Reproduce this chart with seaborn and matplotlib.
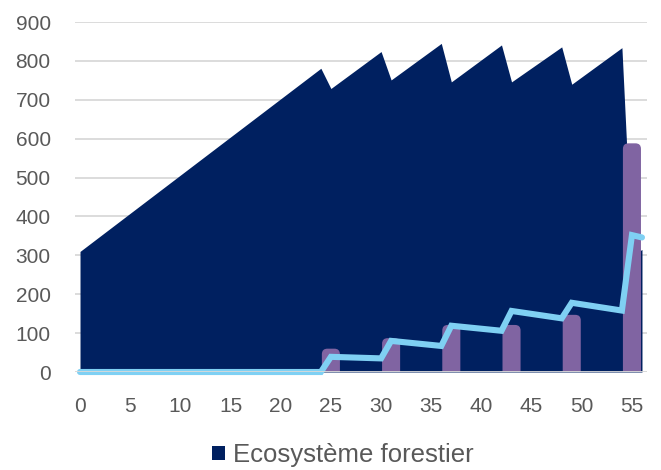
import numpy as np
import pandas as pd
import seaborn as sns
import matplotlib.pyplot as plt
from matplotlib.patches import FancyBboxPatch, Patch

# valeurs
area_years = [0, 24, 25, 30, 31, 36, 37, 42, 43, 48, 49, 54, 55, 56]
area_values = [310, 781, 729, 824, 751, 845, 746, 841, 746, 836, 740, 834, 300, 315]

bar_years = [25, 31, 37, 43, 49, 55]
bar_values = [60, 87, 121, 121, 147, 588]

line_years = [0, 24, 25, 30, 31, 36, 37, 42, 43, 48, 49, 54, 55, 56]
line_values = [0, 0, 39, 35, 80, 67, 119, 106, 157, 138, 178, 158, 352, 346]

x_ticks = list(range(0, 60, 5))
y_ticks = list(range(0, 1000, 100))

navy = '#002060'
purple = '#8064A2'
light_blue = '#7FD0F3'
grey_txt = '#595959'

sns.set_style('white')
plt.rcParams['font.family'] = ['Liberation Sans', 'DejaVu Sans']

fig = plt.figure(figsize=(6.61, 4.70), dpi=100)
ax = fig.add_axes([75 / 661, 98 / 470, 572 / 661, 350 / 470])

# aire : ecosysteme forestier
ax.fill_between(area_years, area_values, 0, color=navy, lw=0, zorder=2)

# barres aux coins arrondis
bars = ax.bar(bar_years, bar_values, width=1.8, color=purple, zorder=3)
asp = (900 / 350) * (572 / 57.0)
for b in list(bars):
    x0, w, h = b.get_x(), b.get_width(), b.get_height()
    p = FancyBboxPatch((x0, -30), w, h + 30,
                       boxstyle='round,pad=0,rounding_size=0.55',
                       mutation_aspect=asp, fc=purple, ec='none', zorder=3)
    ax.add_patch(p)
    b.remove()

# ligne bleu clair
df_line = pd.DataFrame({'annee': line_years, 'valeur': line_values})
sns.lineplot(data=df_line, x='annee', y='valeur', ax=ax, color=light_blue,
             lw=4.4, zorder=4, clip_on=False, solid_joinstyle='miter')

ax.set_xlim(-0.5, 56.5)
ax.set_ylim(0, 900)
ax.set_xticks(x_ticks)
ax.set_yticks(y_ticks)
ax.set_xlabel('')
ax.set_ylabel('')
ax.yaxis.grid(True, color='#d9d9d9', lw=1.3, zorder=0)
ax.set_axisbelow(True)
ax.axhline(0, color='#d9d9d9', lw=1.3, zorder=5)
for s in ax.spines.values():
    s.set_visible(False)
ax.tick_params(axis='both', length=0, labelsize=15, labelcolor=grey_txt)
ax.tick_params(axis='y', pad=17.5)
ax.tick_params(axis='x', pad=18)

handle = Patch(facecolor=navy, edgecolor='none')
fig.legend([handle], ['Ecosystème forestier'], loc='center',
           bbox_to_anchor=(343 / 661, 15 / 470), frameon=False,
           fontsize=18.5, labelcolor=grey_txt, handlelength=0.5,
           handleheight=0.5, handletextpad=0.3)

fig.savefig('out.png', dpi=100)
